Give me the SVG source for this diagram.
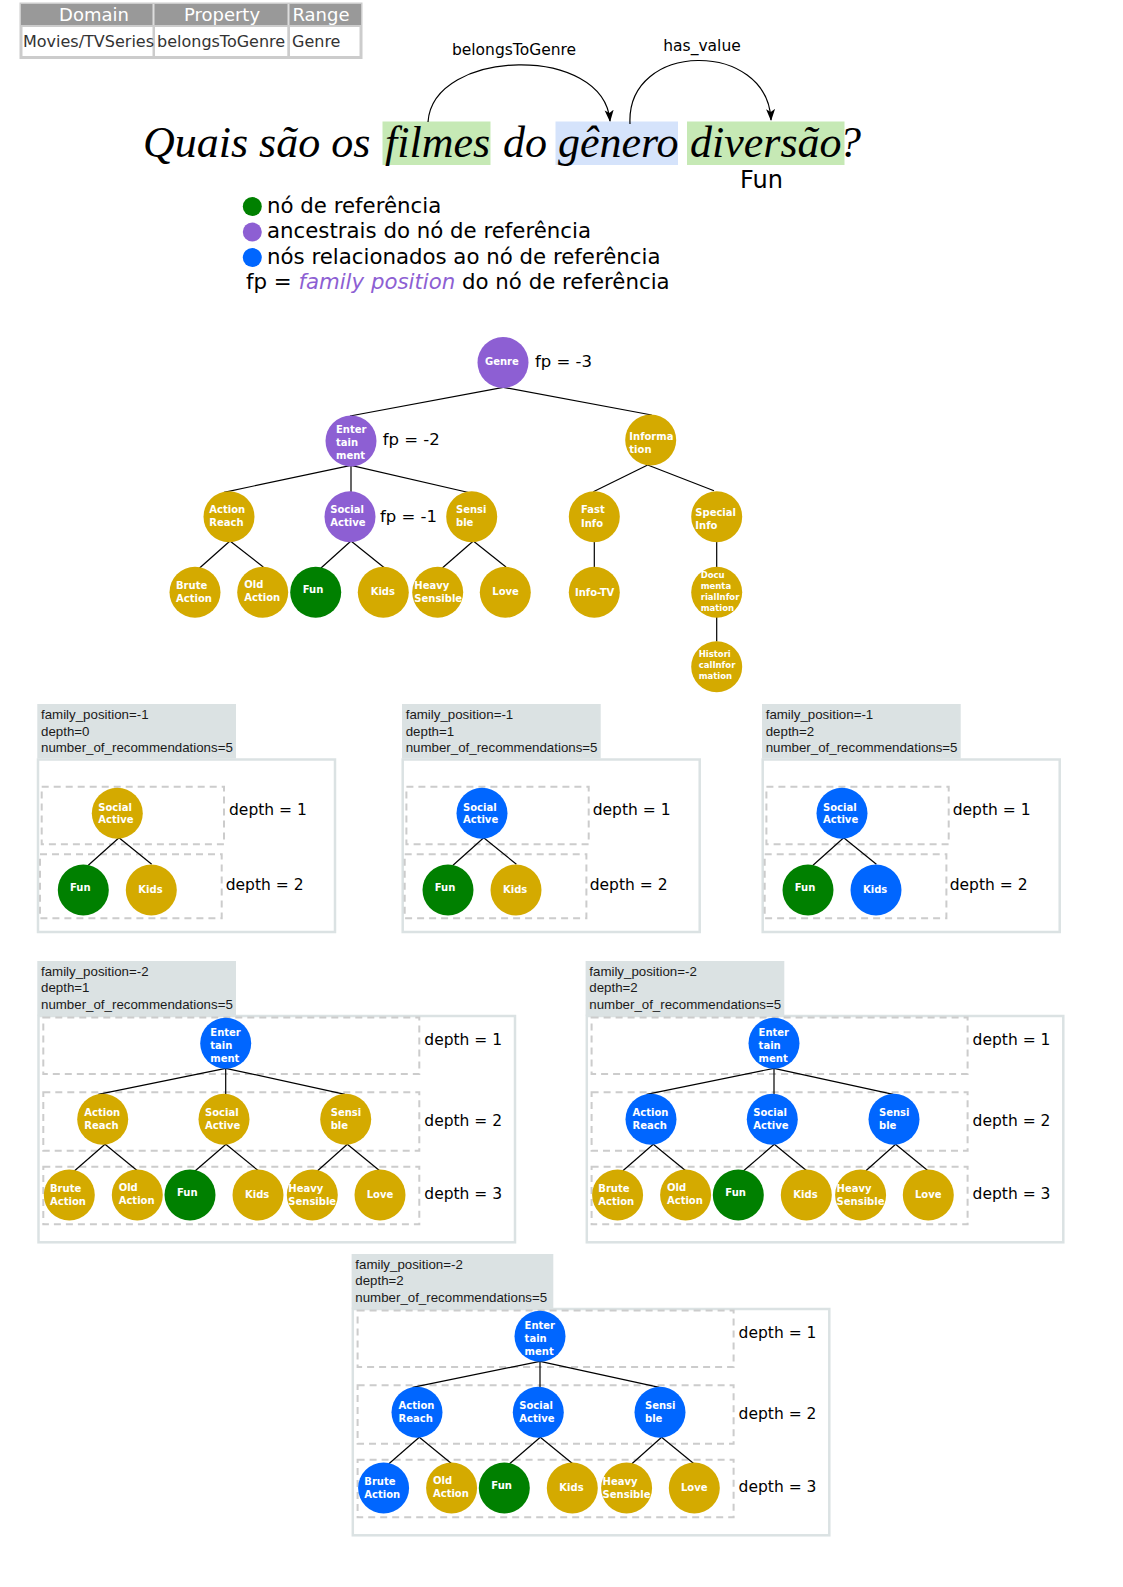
<svg xmlns="http://www.w3.org/2000/svg" width="1123" height="1587" viewBox="0 0 1123 1587">
<defs>
<style>
.nl{font-family:"DejaVu Sans",sans-serif;font-weight:bold;font-size:10px;fill:#fff}
.sm{font-size:8.5px}
.gold{fill:#d4aa00}
.pur{fill:#8d5fd3}
.blu{fill:#0066ff}
.grn{fill:#008000}
.edge{stroke:#000;stroke-width:1.2;fill:none}
.arc{stroke:#000;stroke-width:1.2;fill:none}
.fp{font-family:"DejaVu Sans",sans-serif;font-size:16.5px;fill:#000}
.dl{font-family:"DejaVu Sans",sans-serif;font-size:15.5px;fill:#000}
.hd{fill:#dbe2e3}
.ht{font-family:"Liberation Sans",Arial,sans-serif;font-size:13.3px;fill:#1a1a1a}
.frame{fill:#fff;stroke:#dbe2e3;stroke-width:2.5}
.dash{fill:none;stroke:#cccccc;stroke-width:2;stroke-dasharray:7,5}
.q{font-family:"Liberation Serif","DejaVu Serif",serif;font-style:italic;font-size:44px;fill:#000}
.leg{font-family:"DejaVu Sans",sans-serif;font-size:21.3px;fill:#000}
.tbh{font-family:"DejaVu Sans",sans-serif;font-size:18px;fill:#fff}
.tbb{font-family:"DejaVu Sans",sans-serif;font-size:16px;fill:#333}
.lbl{font-family:"DejaVu Sans",sans-serif;font-size:15.5px;fill:#000}
</style>
<marker id="arr" viewBox="0 0 12 12" refX="11" refY="6" markerWidth="12" markerHeight="12" markerUnits="userSpaceOnUse" orient="auto">
<path d="M0,1.5 L12,6 L0,10.5 L3,6 Z" fill="#000"/>
</marker>
</defs>
<rect width="1123" height="1587" fill="#fff"/>

<!-- table -->
<g id="table">
<rect x="19.5" y="2.5" width="343" height="56.5" fill="#cccccc"/>
<rect x="21" y="4" width="340" height="21" fill="#999999"/>
<rect x="152.5" y="4" width="2" height="21" fill="#dddddd"/>
<rect x="287.5" y="4" width="2" height="21" fill="#dddddd"/>
<rect x="22.5" y="27" width="130" height="29" fill="#fff"/>
<rect x="155" y="27" width="132.3" height="29" fill="#fff"/>
<rect x="290" y="27" width="69.5" height="29" fill="#fff"/>
<text class="tbh" x="94" y="21" text-anchor="middle">Domain</text>
<text class="tbh" x="222" y="21" text-anchor="middle">Property</text>
<text class="tbh" x="321" y="21" text-anchor="middle">Range</text>
<text class="tbb" x="23" y="47">Movies/TVSeries</text>
<text class="tbb" x="157" y="47">belongsToGenre</text>
<text class="tbb" x="292" y="47">Genre</text>
</g>

<!-- question -->
<g id="question">
<rect x="382.5" y="121.5" width="108" height="43.5" fill="#c6e9b5"/>
<rect x="555.5" y="121.5" width="122.5" height="43.5" fill="#d5e3fb"/>
<rect x="687" y="121.5" width="157.5" height="43.5" fill="#c6e9b5"/>
<text class="q" x="143" y="157">Quais são os</text>
<text class="q" x="385" y="157">filmes</text>
<text class="q" x="503" y="157">do</text>
<text class="q" x="558" y="157">gênero</text>
<text class="q" x="690" y="157">diversão</text>
<text class="q" x="839" y="157">?</text>
<text x="740" y="188" font-family="DejaVu Sans, sans-serif" font-size="24">Fun</text>
<text class="lbl" x="514" y="55" text-anchor="middle">belongsToGenre</text>
<text class="lbl" x="702" y="51" text-anchor="middle">has_value</text>
</g>

<!-- legend -->
<g id="legend">
<circle cx="252.3" cy="206.5" r="9.5" class="grn"/>
<circle cx="252.3" cy="232" r="9.5" class="pur"/>
<circle cx="252.3" cy="257.5" r="9.5" class="blu"/>
<text class="leg" x="267" y="213">nó de referência</text>
<text class="leg" x="267" y="237.5">ancestrais do nó de referência</text>
<text class="leg" x="267" y="263.5">nós relacionados ao nó de referência</text>
<text class="leg" x="246" y="289">fp = <tspan fill="#8d5fd3" font-style="italic">family position</tspan> do nó de referência</text>
</g>

<!-- panel backgrounds -->
<g id="panel1-bg">
<rect class="hd" x="37.3" y="704" width="198.7" height="54.5"/>
<text class="ht" x="41" y="719">family_position=-1</text>
<text class="ht" x="41" y="735.7">depth=0</text>
<text class="ht" x="41" y="752.3">number_of_recommendations=5</text>
<rect class="frame" x="38" y="759.5" width="297" height="172.5"/>
<rect class="dash" x="41.7" y="786.7" width="182.3" height="57.6"/>
<rect class="dash" x="40" y="854.3" width="181.7" height="64"/>
<text class="dl" x="229" y="815">depth = 1</text>
<text class="dl" x="225.7" y="890">depth = 2</text>
</g>
<g id="panel2-bg" transform="translate(364.7,0)">
<rect class="hd" x="37.3" y="704" width="198.7" height="54.5"/>
<text class="ht" x="41" y="719">family_position=-1</text>
<text class="ht" x="41" y="735.7">depth=1</text>
<text class="ht" x="41" y="752.3">number_of_recommendations=5</text>
<rect class="frame" x="38" y="759.5" width="297" height="172.5"/>
<rect class="dash" x="41.7" y="786.7" width="182.3" height="57.6"/>
<rect class="dash" x="40" y="854.3" width="181.7" height="64"/>
<text class="dl" x="228" y="815">depth = 1</text>
<text class="dl" x="225" y="890">depth = 2</text>
</g>
<g id="panel3-bg" transform="translate(724.7,0)">
<rect class="hd" x="37.3" y="704" width="198.7" height="54.5"/>
<text class="ht" x="41" y="719">family_position=-1</text>
<text class="ht" x="41" y="735.7">depth=2</text>
<text class="ht" x="41" y="752.3">number_of_recommendations=5</text>
<rect class="frame" x="38" y="759.5" width="297" height="172.5"/>
<rect class="dash" x="41.7" y="786.7" width="182.3" height="57.6"/>
<rect class="dash" x="40" y="854.3" width="181.7" height="64"/>
<text class="dl" x="228" y="815">depth = 1</text>
<text class="dl" x="225" y="890">depth = 2</text>
</g>
<g id="panel4-bg">
<rect class="hd" x="37.3" y="961" width="198.7" height="54.5"/>
<text class="ht" x="41" y="975.7">family_position=-2</text>
<text class="ht" x="41" y="992.3">depth=1</text>
<text class="ht" x="41" y="1009">number_of_recommendations=5</text>
<rect class="frame" x="38.5" y="1016" width="476.5" height="226.3"/>
<rect class="dash" x="43.3" y="1017.5" width="376" height="56.5"/>
<rect class="dash" x="43.3" y="1092.3" width="376" height="58.4"/>
<rect class="dash" x="43.3" y="1166.7" width="376" height="57.6"/>
<text class="dl" x="424.3" y="1045">depth = 1</text>
<text class="dl" x="424.3" y="1125.7">depth = 2</text>
<text class="dl" x="424.3" y="1199.3">depth = 3</text>
</g>
<g id="panel5-bg" transform="translate(548.3,0)">
<rect class="hd" x="37.3" y="961" width="198.7" height="54.5"/>
<text class="ht" x="41" y="975.7">family_position=-2</text>
<text class="ht" x="41" y="992.3">depth=2</text>
<text class="ht" x="41" y="1009">number_of_recommendations=5</text>
<rect class="frame" x="38.5" y="1016" width="476.5" height="226.3"/>
<rect class="dash" x="43.3" y="1017.5" width="376" height="56.5"/>
<rect class="dash" x="43.3" y="1092.3" width="376" height="58.4"/>
<rect class="dash" x="43.3" y="1166.7" width="376" height="57.6"/>
<text class="dl" x="424.3" y="1045">depth = 1</text>
<text class="dl" x="424.3" y="1125.7">depth = 2</text>
<text class="dl" x="424.3" y="1199.3">depth = 3</text>
</g>
<g id="panel6-bg" transform="translate(314.3,293)">
<rect class="hd" x="37.3" y="961" width="201.7" height="54.5"/>
<text class="ht" x="41" y="975.7">family_position=-2</text>
<text class="ht" x="41" y="992.3">depth=2</text>
<text class="ht" x="41" y="1009">number_of_recommendations=5</text>
<rect class="frame" x="38.5" y="1016" width="476.5" height="226.3"/>
<rect class="dash" x="43.3" y="1017.5" width="376" height="56.5"/>
<rect class="dash" x="43.3" y="1092.3" width="376" height="58.4"/>
<rect class="dash" x="43.3" y="1166.7" width="376" height="57.6"/>
<text class="dl" x="424.3" y="1045">depth = 1</text>
<text class="dl" x="424.3" y="1125.7">depth = 2</text>
<text class="dl" x="424.3" y="1199.3">depth = 3</text>
</g>

<!-- connectors -->
<g id="connectors">
<path class="arc" d="M428,122 C433,48 604,44 610,121" marker-end="url(#arr)"/>
<path class="arc" d="M630,124 C626,40 768,40 771,120" marker-end="url(#arr)"/>
<g id="main-edges">
<path class="edge" d="M503.3,387.3 L350,416"/>
<path class="edge" d="M503.3,387.3 L651.7,415"/>
<path class="edge" d="M351,465.3 L224,492.3"/>
<path class="edge" d="M351,465.3 L351,492"/>
<path class="edge" d="M351,465.3 L470.7,493"/>
<path class="edge" d="M230,541 L199.3,568.3"/>
<path class="edge" d="M230,541 L263.3,567"/>
<path class="edge" d="M351,541 L321,568"/>
<path class="edge" d="M351,541 L384.3,567.7"/>
<path class="edge" d="M473.3,541 L442.3,568"/>
<path class="edge" d="M473.3,541 L506,567"/>
<path class="edge" d="M647.7,465 L593.3,491.7"/>
<path class="edge" d="M647.7,465 L714,490.7"/>
<path class="edge" d="M594.3,541.7 L594.3,567.7"/>
<path class="edge" d="M716.7,541.7 L716.7,567.7"/>
<path class="edge" d="M716.7,617 L716.7,641.5"/>
</g>
<g id="p1-edges">
<path class="edge" d="M119,837.7 L88.3,865.3"/>
<path class="edge" d="M119,837.7 L151.7,864.3"/>
</g>
<g id="p2-edges" transform="translate(364.7,0)">
<path class="edge" d="M119,837.7 L88.3,865.3"/>
<path class="edge" d="M119,837.7 L151.7,864.3"/>
</g>
<g id="p3-edges" transform="translate(724.7,0)">
<path class="edge" d="M119,837.7 L88.3,865.3"/>
<path class="edge" d="M119,837.7 L151.7,864.3"/>
</g>
<g id="p4-edges">
<path class="edge" d="M225.7,1068.3 L98.3,1094.3"/>
<path class="edge" d="M225.7,1068.3 L225.7,1094.3"/>
<path class="edge" d="M225.7,1068.3 L345,1094.3"/>
<path class="edge" d="M105,1144.3 L74.3,1171"/>
<path class="edge" d="M105,1144.3 L137.7,1171"/>
<path class="edge" d="M226,1144.3 L195,1171"/>
<path class="edge" d="M226,1144.3 L258.7,1171"/>
<path class="edge" d="M347.3,1144.3 L317.3,1171"/>
<path class="edge" d="M347.3,1144.3 L380,1171"/>
</g>
<g id="p5-edges" transform="translate(548.3,0)">
<path class="edge" d="M225.7,1068.3 L98.3,1094.3"/>
<path class="edge" d="M225.7,1068.3 L225.7,1094.3"/>
<path class="edge" d="M225.7,1068.3 L345,1094.3"/>
<path class="edge" d="M105,1144.3 L74.3,1171"/>
<path class="edge" d="M105,1144.3 L137.7,1171"/>
<path class="edge" d="M226,1144.3 L195,1171"/>
<path class="edge" d="M226,1144.3 L258.7,1171"/>
<path class="edge" d="M347.3,1144.3 L317.3,1171"/>
<path class="edge" d="M347.3,1144.3 L380,1171"/>
</g>
<g id="p6-edges" transform="translate(314.3,293)">
<path class="edge" d="M225.7,1068.3 L98.3,1094.3"/>
<path class="edge" d="M225.7,1068.3 L225.7,1094.3"/>
<path class="edge" d="M225.7,1068.3 L345,1094.3"/>
<path class="edge" d="M105,1144.3 L74.3,1171"/>
<path class="edge" d="M105,1144.3 L137.7,1171"/>
<path class="edge" d="M226,1144.3 L195,1171"/>
<path class="edge" d="M226,1144.3 L258.7,1171"/>
<path class="edge" d="M347.3,1144.3 L317.3,1171"/>
<path class="edge" d="M347.3,1144.3 L380,1171"/>
</g>
</g>

<!-- main tree nodes -->
<g id="main-tree">
<g id="m-genre"><circle class="pur" cx="503" cy="362.5" r="25.5"/><text class="nl" x="485" y="364.5">Genre</text></g>
<text class="fp" x="535" y="367">fp = -3</text>
<g id="m-ent"><circle class="pur" cx="351" cy="441" r="25.5"/><text class="nl"><tspan x="336" y="433">Enter</tspan><tspan x="336" y="446">tain</tspan><tspan x="336" y="459">ment</tspan></text></g>
<text class="fp" x="382.7" y="444.5">fp = -2</text>
<g id="m-action"><circle class="gold" cx="229" cy="516.7" r="25.5"/><text class="nl"><tspan x="209.3" y="513.3">Action</tspan><tspan x="209.3" y="526.3">Reach</tspan></text></g>
<g id="m-social"><circle class="pur" cx="350" cy="516.7" r="25.5"/><text class="nl"><tspan x="330.3" y="513.3">Social</tspan><tspan x="330.3" y="526.3">Active</tspan></text></g>
<text class="fp" x="380" y="522">fp = -1</text>
<g id="m-sensible"><circle class="gold" cx="471.7" cy="516.7" r="25.5"/><text class="nl"><tspan x="456" y="513.3">Sensi</tspan><tspan x="456" y="526.3">ble</tspan></text></g>
<g id="m-brute"><circle class="gold" cx="195" cy="592.3" r="25.5"/><text class="nl"><tspan x="176" y="589">Brute</tspan><tspan x="176" y="601.7">Action</tspan></text></g>
<g id="m-old"><circle class="gold" cx="262.7" cy="592.3" r="25.5"/><text class="nl"><tspan x="244.3" y="588.3">Old</tspan><tspan x="244.3" y="601.3">Action</tspan></text></g>
<g id="m-fun"><circle class="grn" cx="315.7" cy="592.3" r="25.5"/><text class="nl" x="302.7" y="593">Fun</text></g>
<g id="m-kids"><circle class="gold" cx="383.3" cy="592.3" r="25.5"/><text class="nl" x="370.7" y="595.3">Kids</text></g>
<g id="m-heavy"><circle class="gold" cx="437.7" cy="592.3" r="25.5"/><text class="nl"><tspan x="414.3" y="589">Heavy</tspan><tspan x="414.3" y="601.7">Sensible</tspan></text></g>
<g id="m-love"><circle class="gold" cx="505.3" cy="592.3" r="25.5"/><text class="nl" x="492.3" y="595.3">Love</text></g>
<g id="m-info"><circle class="gold" cx="650.7" cy="440" r="25.5"/><text class="nl"><tspan x="629.3" y="440">Informa</tspan><tspan x="629.3" y="453">tion</tspan></text></g>
<g id="m-fast"><circle class="gold" cx="594.3" cy="516.7" r="25.5"/><text class="nl"><tspan x="581" y="513.3">Fast</tspan><tspan x="581" y="526.7">Info</tspan></text></g>
<g id="m-special"><circle class="gold" cx="716.7" cy="516.7" r="25.5"/><text class="nl"><tspan x="695.3" y="515.7">Special</tspan><tspan x="695.3" y="528.7">Info</tspan></text></g>
<g id="m-infotv"><circle class="gold" cx="594.3" cy="592.3" r="25.5"/><text class="nl" x="575" y="596">Info-TV</text></g>
<g id="m-doc"><circle class="gold" cx="716.7" cy="592.3" r="25.5"/><text class="nl sm"><tspan x="700.7" y="578.3">Docu</tspan><tspan x="700.7" y="589.3">menta</tspan><tspan x="700.7" y="600.3">rialInfor</tspan><tspan x="700.7" y="611.3">mation</tspan></text></g>
<g id="m-hist"><circle class="gold" cx="716.7" cy="666.7" r="25.5"/><text class="nl sm"><tspan x="698.7" y="657">Histori</tspan><tspan x="698.7" y="668">calInfor</tspan><tspan x="698.7" y="679">mation</tspan></text></g>
</g>

<!-- panels 1-3 nodes -->
<g id="p1-nodes">
<g id="p1-social"><circle class="gold" cx="117.3" cy="813.3" r="25.5"/><text class="nl"><tspan x="98.3" y="810.7">Social</tspan><tspan x="98.3" y="823.3">Active</tspan></text></g>
<g id="p1-fun"><circle class="grn" cx="83.3" cy="890" r="25.5"/><text class="nl" x="70" y="890.5">Fun</text></g>
<g id="p1-kids"><circle class="gold" cx="151.3" cy="890" r="25.5"/><text class="nl" x="138.3" y="892.7">Kids</text></g>
</g>
<g id="p2-nodes" transform="translate(364.7,0)">
<g id="p2-social"><circle class="blu" cx="117.3" cy="813.3" r="25.5"/><text class="nl"><tspan x="98.3" y="810.7">Social</tspan><tspan x="98.3" y="823.3">Active</tspan></text></g>
<g id="p2-fun"><circle class="grn" cx="83.3" cy="890" r="25.5"/><text class="nl" x="70" y="890.5">Fun</text></g>
<g id="p2-kids"><circle class="gold" cx="151.3" cy="890" r="25.5"/><text class="nl" x="138.3" y="892.7">Kids</text></g>
</g>
<g id="p3-nodes" transform="translate(724.7,0)">
<g id="p3-social"><circle class="blu" cx="117.3" cy="813.3" r="25.5"/><text class="nl"><tspan x="98.3" y="810.7">Social</tspan><tspan x="98.3" y="823.3">Active</tspan></text></g>
<g id="p3-fun"><circle class="grn" cx="83.3" cy="890" r="25.5"/><text class="nl" x="70" y="890.5">Fun</text></g>
<g id="p3-kids"><circle class="blu" cx="151.3" cy="890" r="25.5"/><text class="nl" x="138.3" y="892.7">Kids</text></g>
</g>

<!-- panels 4-6 nodes -->
<g id="p4-nodes">
<g id="p4-ent"><circle class="blu" cx="225.7" cy="1043.3" r="25.5"/><text class="nl"><tspan x="210.3" y="1036">Enter</tspan><tspan x="210.3" y="1049">tain</tspan><tspan x="210.3" y="1062">ment</tspan></text></g>
<g id="p4-action"><circle class="gold" cx="102.7" cy="1119.3" r="25.5"/><text class="nl"><tspan x="84.3" y="1116.3">Action</tspan><tspan x="84.3" y="1129.3">Reach</tspan></text></g>
<g id="p4-social"><circle class="gold" cx="224" cy="1119.3" r="25.5"/><text class="nl"><tspan x="205" y="1116.3">Social</tspan><tspan x="205" y="1129.3">Active</tspan></text></g>
<g id="p4-sensible"><circle class="gold" cx="345.7" cy="1119.3" r="25.5"/><text class="nl"><tspan x="330.7" y="1116.3">Sensi</tspan><tspan x="330.7" y="1129.3">ble</tspan></text></g>
<g id="p4-brute"><circle class="gold" cx="69.3" cy="1195" r="25.5"/><text class="nl"><tspan x="50" y="1192">Brute</tspan><tspan x="50" y="1205">Action</tspan></text></g>
<g id="p4-old"><circle class="gold" cx="137.3" cy="1195" r="25.5"/><text class="nl"><tspan x="118.7" y="1191">Old</tspan><tspan x="118.7" y="1204">Action</tspan></text></g>
<g id="p4-fun"><circle class="grn" cx="190" cy="1195" r="25.5"/><text class="nl" x="177" y="1195.6">Fun</text></g>
<g id="p4-kids"><circle class="gold" cx="258" cy="1195" r="25.5"/><text class="nl" x="245" y="1198">Kids</text></g>
<g id="p4-heavy"><circle class="gold" cx="312.3" cy="1195" r="25.5"/><text class="nl"><tspan x="288.3" y="1192">Heavy</tspan><tspan x="288.3" y="1205">Sensible</tspan></text></g>
<g id="p4-love"><circle class="gold" cx="380" cy="1195" r="25.5"/><text class="nl" x="366.7" y="1198">Love</text></g>
</g>
<g id="p5-nodes" transform="translate(548.3,0)">
<g id="p5-ent"><circle class="blu" cx="225.7" cy="1043.3" r="25.5"/><text class="nl"><tspan x="210.3" y="1036">Enter</tspan><tspan x="210.3" y="1049">tain</tspan><tspan x="210.3" y="1062">ment</tspan></text></g>
<g id="p5-action"><circle class="blu" cx="102.7" cy="1119.3" r="25.5"/><text class="nl"><tspan x="84.3" y="1116.3">Action</tspan><tspan x="84.3" y="1129.3">Reach</tspan></text></g>
<g id="p5-social"><circle class="blu" cx="224" cy="1119.3" r="25.5"/><text class="nl"><tspan x="205" y="1116.3">Social</tspan><tspan x="205" y="1129.3">Active</tspan></text></g>
<g id="p5-sensible"><circle class="blu" cx="345.7" cy="1119.3" r="25.5"/><text class="nl"><tspan x="330.7" y="1116.3">Sensi</tspan><tspan x="330.7" y="1129.3">ble</tspan></text></g>
<g id="p5-brute"><circle class="gold" cx="69.3" cy="1195" r="25.5"/><text class="nl"><tspan x="50" y="1192">Brute</tspan><tspan x="50" y="1205">Action</tspan></text></g>
<g id="p5-old"><circle class="gold" cx="137.3" cy="1195" r="25.5"/><text class="nl"><tspan x="118.7" y="1191">Old</tspan><tspan x="118.7" y="1204">Action</tspan></text></g>
<g id="p5-fun"><circle class="grn" cx="190" cy="1195" r="25.5"/><text class="nl" x="177" y="1195.6">Fun</text></g>
<g id="p5-kids"><circle class="gold" cx="258" cy="1195" r="25.5"/><text class="nl" x="245" y="1198">Kids</text></g>
<g id="p5-heavy"><circle class="gold" cx="312.3" cy="1195" r="25.5"/><text class="nl"><tspan x="288.3" y="1192">Heavy</tspan><tspan x="288.3" y="1205">Sensible</tspan></text></g>
<g id="p5-love"><circle class="gold" cx="380" cy="1195" r="25.5"/><text class="nl" x="366.7" y="1198">Love</text></g>
</g>
<g id="p6-nodes" transform="translate(314.3,293)">
<g id="p6-ent"><circle class="blu" cx="225.7" cy="1043.3" r="25.5"/><text class="nl"><tspan x="210.3" y="1036">Enter</tspan><tspan x="210.3" y="1049">tain</tspan><tspan x="210.3" y="1062">ment</tspan></text></g>
<g id="p6-action"><circle class="blu" cx="102.7" cy="1119.3" r="25.5"/><text class="nl"><tspan x="84.3" y="1116.3">Action</tspan><tspan x="84.3" y="1129.3">Reach</tspan></text></g>
<g id="p6-social"><circle class="blu" cx="224" cy="1119.3" r="25.5"/><text class="nl"><tspan x="205" y="1116.3">Social</tspan><tspan x="205" y="1129.3">Active</tspan></text></g>
<g id="p6-sensible"><circle class="blu" cx="345.7" cy="1119.3" r="25.5"/><text class="nl"><tspan x="330.7" y="1116.3">Sensi</tspan><tspan x="330.7" y="1129.3">ble</tspan></text></g>
<g id="p6-brute"><circle class="blu" cx="69.3" cy="1195" r="25.5"/><text class="nl"><tspan x="50" y="1192">Brute</tspan><tspan x="50" y="1205">Action</tspan></text></g>
<g id="p6-old"><circle class="gold" cx="137.3" cy="1195" r="25.5"/><text class="nl"><tspan x="118.7" y="1191">Old</tspan><tspan x="118.7" y="1204">Action</tspan></text></g>
<g id="p6-fun"><circle class="grn" cx="190" cy="1195" r="25.5"/><text class="nl" x="177" y="1195.6">Fun</text></g>
<g id="p6-kids"><circle class="gold" cx="258" cy="1195" r="25.5"/><text class="nl" x="245" y="1198">Kids</text></g>
<g id="p6-heavy"><circle class="gold" cx="312.3" cy="1195" r="25.5"/><text class="nl"><tspan x="288.3" y="1192">Heavy</tspan><tspan x="288.3" y="1205">Sensible</tspan></text></g>
<g id="p6-love"><circle class="gold" cx="380" cy="1195" r="25.5"/><text class="nl" x="366.7" y="1198">Love</text></g>
</g>
</svg>
